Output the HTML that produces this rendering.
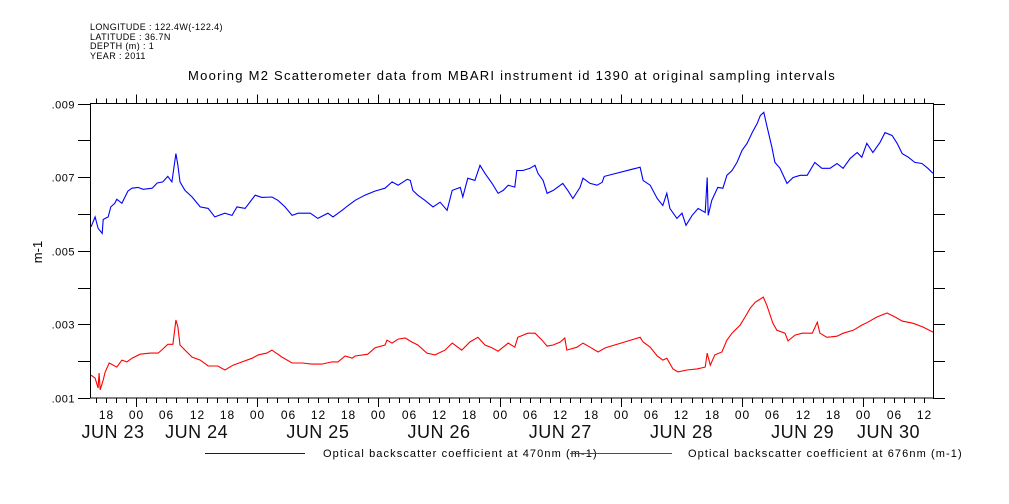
<!DOCTYPE html>
<html><head><meta charset="utf-8"><style>
body{margin:0;background:#fff;}
svg{display:block;font-family:"Liberation Sans",sans-serif;}
</style></head><body>
<svg id="chart" width="1009" height="504" viewBox="0 0 1009 504">
<g font-size="9" fill="#000" letter-spacing="0.4">
<text x="90" y="30">LONGITUDE : 122.4W(-122.4)</text>
<text x="90" y="40">LATITUDE : 36.7N</text>
<text x="90" y="49">DEPTH (m) : 1</text>
<text x="90" y="59">YEAR : 2011</text>
</g>
<text x="512" y="80" font-size="13" text-anchor="middle" letter-spacing="1.25">Mooring M2 Scatterometer data from MBARI instrument id 1390 at original sampling intervals</text>
<text transform="translate(42,252) rotate(-90)" font-size="13" text-anchor="middle">m-1</text>
<g id="axes"></g>
<g id="series"></g>
<g>
<line x1="205" y1="453.5" x2="305" y2="453.5" stroke="#0000ff" stroke-width="1"/>
<text x="323" y="457" font-size="11" letter-spacing="1.1">Optical backscatter coefficient at 470nm (m-1)</text>
<line x1="570" y1="453.5" x2="672" y2="453.5" stroke="#ff0000" stroke-width="1"/>
<text x="688" y="457" font-size="11" letter-spacing="1.1">Optical backscatter coefficient at 676nm (m-1)</text>
</g>
</svg>
<script>
// hours since Jun 23 00:00 ; values in units of 0.001 m-1
const blueTimes=[15.1,15.9,16.5,17.3,17.5,18.5,19.0,19.8,20.2,21.2,22.4,23.2,24.4,25.4,27.2,28.2,29.3,30.3,31.1,31.9,32.3,32.7,33.7,35.1,36.7,38.3,39.6,41.6,43.0,44.0,45.6,47.6,48.9,50.9,52.1,53.5,54.9,56.1,58.5,60.0,62.0,63.0,64.8,66.0,67.4,69.3,71.3,73.3,74.7,75.9,77.7,78.3,78.8,79.8,81.2,82.8,84.2,85.6,86.6,88.2,88.7,89.7,91.1,92.1,93.1,94.5,95.7,96.7,97.7,99.0,99.4,100.6,102.0,103.0,103.6,104.6,105.4,106.6,108.5,109.5,110.5,111.9,112.5,113.9,115.3,116.3,116.7,123.8,124.4,125.8,127.2,128.3,129.1,129.7,131.1,132.1,132.9,134.1,135.3,136.7,137.1,137.3,138.0,139.2,140.2,141.0,142.0,143.0,144.0,145.0,146.0,147.0,147.6,148.3,148.9,149.9,150.5,151.5,152.9,154.1,155.5,156.9,158.4,159.8,161.4,162.8,164.0,165.4,166.8,167.7,168.7,169.9,171.3,172.3,173.7,174.7,175.7,176.9,178.2,179.6,180.8,181.8];
const blueValues=[5.65,5.92,5.61,5.47,5.85,5.92,6.19,6.29,6.40,6.29,6.62,6.70,6.72,6.67,6.70,6.84,6.87,7.02,6.87,7.64,7.32,6.87,6.64,6.46,6.19,6.15,5.92,6.02,5.96,6.19,6.15,6.51,6.45,6.46,6.37,6.19,5.96,6.02,6.02,5.88,6.02,5.92,6.10,6.23,6.37,6.51,6.62,6.70,6.87,6.78,6.94,6.91,6.64,6.51,6.37,6.19,6.32,6.10,6.64,6.72,6.46,6.97,6.91,7.32,7.10,6.83,6.56,6.64,6.78,6.73,7.18,7.18,7.24,7.32,7.10,6.91,6.56,6.64,6.83,6.64,6.42,6.72,6.97,6.83,6.78,6.86,7.02,7.27,6.91,6.78,6.42,6.23,6.56,6.15,5.88,6.02,5.69,5.96,6.15,6.04,6.99,5.96,6.37,6.72,6.70,7.05,7.18,7.40,7.73,7.92,8.21,8.46,8.67,8.76,8.40,7.81,7.40,7.24,6.83,6.99,7.05,7.05,7.40,7.24,7.24,7.37,7.24,7.51,7.67,7.54,7.92,7.67,7.94,8.21,8.13,7.92,7.64,7.54,7.40,7.37,7.24,7.10];
const redTimes=[15.1,15.9,16.5,16.7,16.9,17.5,17.9,18.7,20.2,21.2,22.2,23.2,24.8,26.8,28.4,29.3,30.3,31.3,31.9,32.3,32.7,33.7,35.1,36.7,38.3,40.2,41.6,43.2,45.0,47.0,48.2,49.9,50.9,52.9,54.9,56.9,58.8,60.8,62.8,64.0,65.4,66.8,67.4,69.9,71.3,73.3,73.7,74.7,75.9,77.3,78.6,79.8,81.6,83.2,85.2,86.6,88.5,90.1,91.7,93.1,94.5,95.7,97.7,99.0,99.6,101.6,103.0,104.4,105.4,106.6,108.0,108.9,109.3,111.3,112.5,113.9,115.5,116.9,123.8,124.4,125.8,127.2,128.3,129.1,130.3,131.3,133.1,135.1,136.7,137.1,137.7,138.6,140.0,141.0,142.0,143.6,144.6,145.6,146.6,148.2,148.9,150.1,150.9,152.5,153.1,154.5,155.9,157.9,158.9,159.4,160.8,162.8,164.0,166.0,167.7,168.9,170.7,172.7,174.3,175.7,177.9,179.8,181.8];
const redValues=[1.62,1.54,1.27,1.68,1.22,1.49,1.71,1.95,1.84,2.03,1.98,2.08,2.19,2.22,2.22,2.33,2.46,2.46,3.12,2.93,2.44,2.30,2.11,2.03,1.87,1.87,1.76,1.89,1.98,2.08,2.17,2.22,2.30,2.11,1.95,1.95,1.92,1.92,1.98,1.98,2.14,2.08,2.14,2.19,2.36,2.44,2.57,2.49,2.60,2.63,2.52,2.44,2.22,2.17,2.30,2.49,2.30,2.52,2.65,2.44,2.36,2.27,2.49,2.38,2.65,2.76,2.76,2.57,2.41,2.44,2.52,2.63,2.30,2.38,2.49,2.38,2.25,2.36,2.65,2.52,2.38,2.14,2.03,2.08,1.79,1.71,1.76,1.79,1.84,2.22,1.89,2.17,2.25,2.57,2.76,2.98,3.20,3.44,3.60,3.74,3.52,3.03,2.84,2.76,2.55,2.71,2.76,2.76,3.06,2.76,2.65,2.68,2.76,2.84,2.98,3.06,3.20,3.31,3.20,3.09,3.03,2.93,2.79];
const yTickValues=[1,2,3,4,5,6,7,8,9];
const yTickLabels=[".001","",".003","",".005","",".007","",".009"];
const hourLabels=["00","06","12","18"];
const dayLabels=["JUN 23","JUN 24","JUN 25","JUN 26","JUN 27","JUN 28","JUN 29","JUN 30"];

const X0=90,X1=933,Y0=398,Y1=103.5;
const T0=14.89,T1=181.8,V0=1,V1=9;
function xs(t){return X0+(t-T0)/(T1-T0)*(X1-X0);}
function ys(v){return Y0-(v-V0)/(V1-V0)*(Y0-Y1);}
const NS="http://www.w3.org/2000/svg";
function mk(tag,attrs,parent){const e=document.createElementNS(NS,tag);for(const k in attrs)e.setAttribute(k,attrs[k]);parent.appendChild(e);return e;}
const axes=document.getElementById('axes');
const frame=mk('rect',{x:X0+0.5,y:Y1,width:X1-X0,height:Y0-Y1,fill:'none',stroke:'#000','stroke-width':1},axes);


for(let h=16;h<=T1;h+=2){
  const x=Math.round(xs(h))+0.5;const major=h%24===0;
  const tb=mk('line',{x1:x,x2:x,y1:Y0,y2:Y0+(major?9:5),stroke:'#000'},axes);
  
  
  const tt=mk('line',{x1:x,x2:x,y1:Y1,y2:Y1-(major?9:5),stroke:'#000'},axes);
  
  
  if(h%6===0){
    const lb=mk('text',{x:x,y:Y0+21,'font-size':12,'text-anchor':'middle','letter-spacing':1},axes);
    lb.textContent=hourLabels[(h%24)/6];
    
    
  }
}
dayLabels.forEach((d,i)=>{
  let cx=xs(i*24+12);
  if(i===0)cx=(X0+xs(24))/2;
  if(i===7)cx=Math.min(cx,xs(i*24+5));
  const t=mk('text',{x:cx,y:438,'font-size':18,'text-anchor':'middle','letter-spacing':0.5,fill:'#111'},axes);
  t.textContent=d;
  
  
});
yTickValues.forEach((v,i)=>{
  const y=Math.round(ys(v))+0.5;
  const l=mk('line',{x1:X0-12,x2:X0,y1:y,y2:y,stroke:'#000'},axes);
  
  
  const r=mk('line',{x1:X1,x2:X1+12,y1:y,y2:y,stroke:'#000'},axes);
  
  
  if(yTickLabels[i]){
    const t=mk('text',{x:X0-15,y:y+4,'font-size':11,'text-anchor':'end','letter-spacing':0.5},axes);
    t.textContent=yTickLabels[i];
    
    
  }
});
const series=document.getElementById('series');
function line(ts,vs,color,name){
  const p=mk('polyline',{points:ts.map((t,i)=>xs(t).toFixed(1)+','+ys(vs[i]).toFixed(1)).join(' '),fill:'none',stroke:color,'stroke-width':1.1},series);
  
  
}
line(blueTimes,blueValues,'#0000ff','series-470nm');
line(redTimes,redValues,'#ff0000','series-676nm');
</script>
</body></html>
